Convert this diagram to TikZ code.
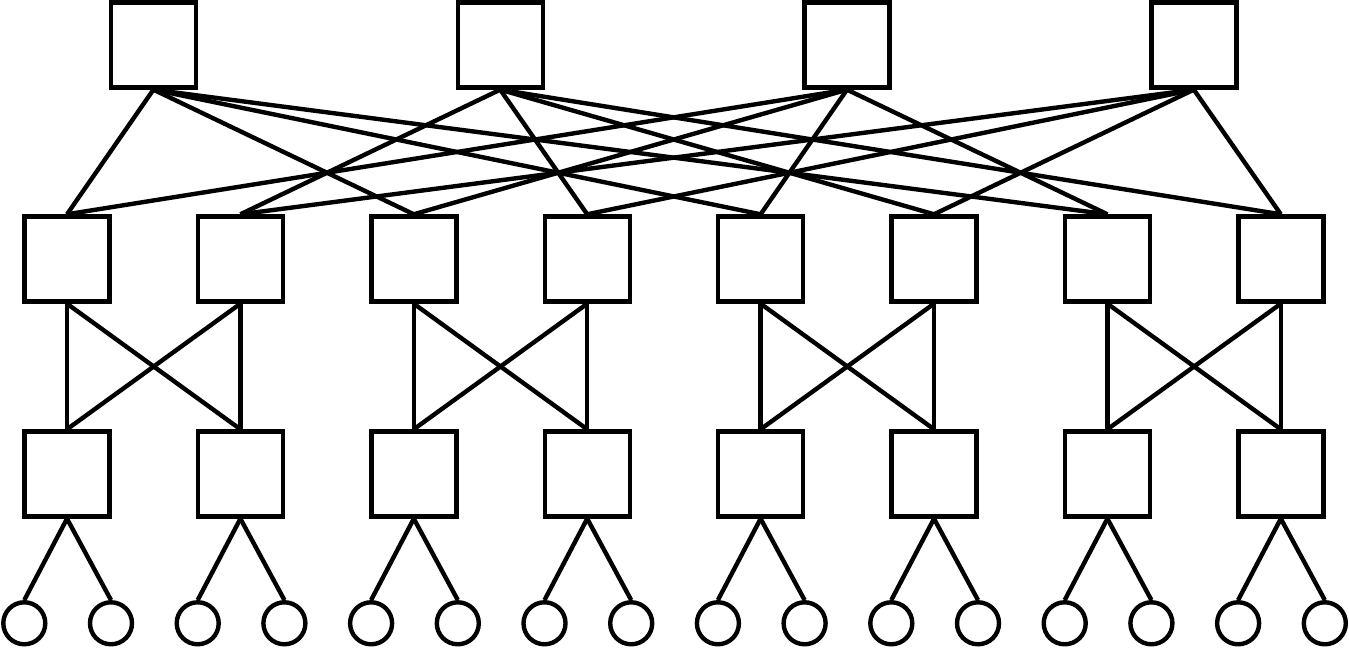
\documentclass[tikz,border=0pt]{standalone}
\usepackage{tikz}

\begin{document}
\begin{tikzpicture}[line width=1.25pt,
  sw/.style={draw, rectangle, minimum size=0.85cm, inner sep=0pt},
  host/.style={draw, circle, minimum size=0.42cm, inner sep=0pt}]
\useasboundingbox (0,0) rectangle (13.49,6.48);
% core
\node[sw](c1) at (1.534,6.03) {};
\node[sw](c2) at (5.002,6.03) {};
\node[sw](c3) at (8.470,6.03) {};
\node[sw](c4) at (11.938,6.03) {};
% aggregation
\node[sw](a1) at (0.670,3.89) {};
\node[sw](a2) at (2.404,3.89) {};
\node[sw](a3) at (4.138,3.89) {};
\node[sw](a4) at (5.872,3.89) {};
\node[sw](a5) at (7.606,3.89) {};
\node[sw](a6) at (9.340,3.89) {};
\node[sw](a7) at (11.074,3.89) {};
\node[sw](a8) at (12.808,3.89) {};
% edge
\node[sw](e1) at (0.670,1.74) {};
\node[sw](e2) at (2.404,1.74) {};
\node[sw](e3) at (4.138,1.74) {};
\node[sw](e4) at (5.872,1.74) {};
\node[sw](e5) at (7.606,1.74) {};
\node[sw](e6) at (9.340,1.74) {};
\node[sw](e7) at (11.074,1.74) {};
\node[sw](e8) at (12.808,1.74) {};
% hosts
\node[host](h1) at (0.243,0.247) {};
\node[host](h2) at (1.110,0.247) {};
\node[host](h3) at (1.977,0.247) {};
\node[host](h4) at (2.844,0.247) {};
\node[host](h5) at (3.711,0.247) {};
\node[host](h6) at (4.578,0.247) {};
\node[host](h7) at (5.445,0.247) {};
\node[host](h8) at (6.312,0.247) {};
\node[host](h9) at (7.179,0.247) {};
\node[host](h10) at (8.046,0.247) {};
\node[host](h11) at (8.913,0.247) {};
\node[host](h12) at (9.780,0.247) {};
\node[host](h13) at (10.647,0.247) {};
\node[host](h14) at (11.514,0.247) {};
\node[host](h15) at (12.381,0.247) {};
\node[host](h16) at (13.248,0.247) {};
% core -- aggregation
\draw (c1.south) -- (a1.north);
\draw (c1.south) -- (a3.north);
\draw (c1.south) -- (a5.north);
\draw (c1.south) -- (a7.north);
\draw (c2.south) -- (a2.north);
\draw (c2.south) -- (a4.north);
\draw (c2.south) -- (a6.north);
\draw (c2.south) -- (a8.north);
\draw (c3.south) -- (a1.north);
\draw (c3.south) -- (a3.north);
\draw (c3.south) -- (a5.north);
\draw (c3.south) -- (a7.north);
\draw (c4.south) -- (a2.north);
\draw (c4.south) -- (a4.north);
\draw (c4.south) -- (a6.north);
\draw (c4.south) -- (a8.north);
% aggregation -- edge
\draw (a1.south) -- (e1.north);
\draw (a1.south) -- (e2.north);
\draw (a2.south) -- (e1.north);
\draw (a2.south) -- (e2.north);
\draw (a3.south) -- (e3.north);
\draw (a3.south) -- (e4.north);
\draw (a4.south) -- (e3.north);
\draw (a4.south) -- (e4.north);
\draw (a5.south) -- (e5.north);
\draw (a5.south) -- (e6.north);
\draw (a6.south) -- (e5.north);
\draw (a6.south) -- (e6.north);
\draw (a7.south) -- (e7.north);
\draw (a7.south) -- (e8.north);
\draw (a8.south) -- (e7.north);
\draw (a8.south) -- (e8.north);
% edge -- hosts
\draw (e1.south) -- (h1.north);
\draw (e1.south) -- (h2.north);
\draw (e2.south) -- (h3.north);
\draw (e2.south) -- (h4.north);
\draw (e3.south) -- (h5.north);
\draw (e3.south) -- (h6.north);
\draw (e4.south) -- (h7.north);
\draw (e4.south) -- (h8.north);
\draw (e5.south) -- (h9.north);
\draw (e5.south) -- (h10.north);
\draw (e6.south) -- (h11.north);
\draw (e6.south) -- (h12.north);
\draw (e7.south) -- (h13.north);
\draw (e7.south) -- (h14.north);
\draw (e8.south) -- (h15.north);
\draw (e8.south) -- (h16.north);
\end{tikzpicture}
\end{document}
